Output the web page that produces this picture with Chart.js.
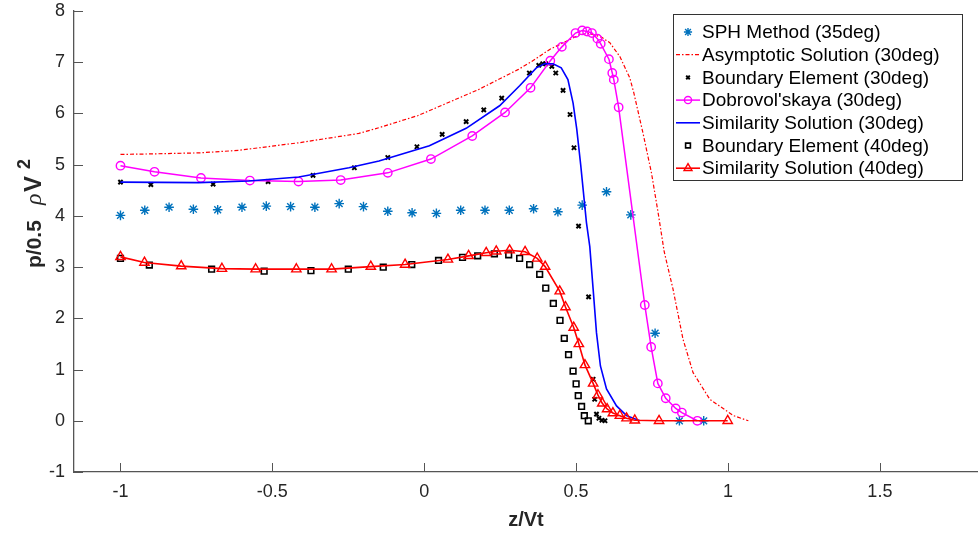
<!DOCTYPE html>
<html>
<head>
<meta charset="UTF-8">
<title>p/0.5 rho V^2 x z/Vt</title>
<script src="https://cdn.jsdelivr.net/npm/chart.js"></script>
<style>
    html, body { margin: 0; padding: 0; background: #fff; }
    #grafico { display: block; }
</style>
</head>
<body>
<canvas id="grafico" width="978" height="538"></canvas>
<script>
// valores
const sphX = [-1, -0.92, -0.84, -0.76, -0.68, -0.6, -0.52, -0.44, -0.36, -0.28, -0.2, -0.12, -0.04, 0.04, 0.12, 0.2, 0.28, 0.36, 0.44, 0.52, 0.6, 0.68, 0.76, 0.84, 0.92];
const sphY = [4.01, 4.11, 4.17, 4.13, 4.12, 4.17, 4.19, 4.18, 4.17, 4.24, 4.18, 4.09, 4.06, 4.05, 4.11, 4.11, 4.11, 4.14, 4.08, 4.21, 4.47, 4.02, 1.71, 0, 0];

const asymX = [-1, -0.9, -0.74, -0.61, -0.41, -0.215, -0.15, -0.02, 0.18, 0.31, 0.35, 0.413, 0.468, 0.512, 0.545, 0.583, 0.611, 0.644, 0.677, 0.69, 0.72, 0.748, 0.77, 0.79, 0.819, 0.852, 0.885, 0.94, 1.018, 1.067];
const asymY = [5.2, 5.21, 5.23, 5.28, 5.43, 5.61, 5.72, 5.96, 6.47, 6.86, 7.0, 7.25, 7.41, 7.54, 7.56, 7.49, 7.38, 7.11, 6.69, 6.4, 5.62, 4.84, 4.06, 3.3, 2.57, 1.59, 0.94, 0.42, 0.1, 0];

const be30X = [-1, -0.9, -0.695, -0.514, -0.366, -0.23, -0.12, -0.024, 0.059, 0.138, 0.196, 0.255, 0.346, 0.377, 0.39, 0.4, 0.42, 0.433, 0.457, 0.48, 0.493, 0.508, 0.541, 0.556, 0.561, 0.567, 0.575, 0.585, 0.595];
const be30Y = [4.66, 4.61, 4.62, 4.67, 4.79, 4.94, 5.14, 5.35, 5.59, 5.84, 6.07, 6.3, 6.79, 6.94, 6.97, 6.97, 6.92, 6.79, 6.45, 5.98, 5.33, 3.8, 2.42, 0.81, 0.42, 0.13, 0.05, 0.01, 0];

const dobX = [-1, -0.888, -0.735, -0.574, -0.414, -0.275, -0.12, 0.022, 0.158, 0.266, 0.35, 0.415, 0.453, 0.498, 0.52, 0.536, 0.552, 0.57, 0.581, 0.608, 0.619, 0.624, 0.64, 0.726, 0.747, 0.769, 0.795, 0.828, 0.848, 0.899];
const dobY = [4.98, 4.86, 4.74, 4.69, 4.67, 4.7, 4.84, 5.11, 5.56, 6.02, 6.5, 7.03, 7.3, 7.57, 7.62, 7.6, 7.57, 7.46, 7.36, 7.06, 6.79, 6.66, 6.12, 2.26, 1.44, 0.73, 0.44, 0.24, 0.16, 0];

const sim30X = [-1, -0.743, -0.578, -0.413, -0.248, -0.149, 0.017, 0.138, 0.248, 0.314, 0.369, 0.396, 0.424, 0.451, 0.473, 0.49, 0.502, 0.515, 0.534, 0.545, 0.556, 0.567, 0.58, 0.6, 0.633, 0.666, 0.71];
const sim30Y = [4.66, 4.65, 4.68, 4.76, 4.94, 5.07, 5.37, 5.71, 6.15, 6.54, 6.89, 6.97, 6.97, 6.89, 6.66, 6.2, 5.7, 5.0, 3.87, 3.4, 2.57, 1.72, 1.07, 0.62, 0.29, 0.1, 0];

const be40X = [-1, -0.905, -0.7, -0.527, -0.373, -0.25, -0.135, -0.041, 0.047, 0.126, 0.176, 0.231, 0.278, 0.314, 0.347, 0.38, 0.4, 0.425, 0.447, 0.461, 0.475, 0.49, 0.5, 0.507, 0.518, 0.527, 0.54];
const be40Y = [3.17, 3.04, 2.96, 2.92, 2.93, 2.96, 3.0, 3.05, 3.13, 3.19, 3.22, 3.26, 3.24, 3.17, 3.05, 2.86, 2.59, 2.29, 1.96, 1.61, 1.29, 0.97, 0.72, 0.49, 0.28, 0.1, 0];

const sim40X = [-1, -0.921, -0.8, -0.666, -0.555, -0.421, -0.305, -0.176, -0.063, 0.078, 0.146, 0.204, 0.237, 0.281, 0.332, 0.372, 0.398, 0.446, 0.465, 0.492, 0.509, 0.529, 0.556, 0.572, 0.586, 0.602, 0.621, 0.644, 0.666, 0.693, 0.773, 0.999];
const sim40Y = [3.2, 3.09, 3.02, 2.97, 2.96, 2.96, 2.96, 3.01, 3.05, 3.15, 3.22, 3.28, 3.31, 3.33, 3.3, 3.17, 3.01, 2.53, 2.22, 1.82, 1.5, 1.09, 0.73, 0.5, 0.34, 0.23, 0.15, 0.1, 0.05, 0.01, 0, 0];

const nomes = ['SPH Method (35deg)', 'Asymptotic Solution (30deg)', 'Boundary Element (30deg)', "Dobrovol'skaya (30deg)", 'Similarity Solution (30deg)', 'Boundary Element (40deg)', 'Similarity Solution (40deg)'];
const xTicks = [-1, -0.5, 0, 0.5, 1, 1.5];
const yTicks = [-1, 0, 1, 2, 3, 4, 5, 6, 7, 8];

function pares(xs, ys) {
    return xs.map((x, i) => ({ x: x, y: ys[i] }));
}

const series = [
    { label: nomes[0], data: pares(sphX, sphY), showLine: false, pointStyle: 'star', pointRadius: 4.8,
      pointBorderColor: '#0072BD', pointBorderWidth: 1.4, borderColor: '#0072BD', order: 6 },
    { label: nomes[1], data: pares(asymX, asymY), showLine: true, pointRadius: 0, borderColor: '#FF0000',
      borderWidth: 1.2, borderDash: [4, 2, 1.5, 2], order: 5 },
    { label: nomes[2], data: pares(be30X, be30Y), showLine: false, pointStyle: 'crossRot', pointRadius: 3,
      pointBorderColor: '#000', pointBorderWidth: 2, borderColor: '#000', order: 4 },
    { label: nomes[3], data: pares(dobX, dobY), showLine: true, pointStyle: 'circle', pointRadius: 4.2,
      pointBorderColor: '#FF00FF', pointBackgroundColor: 'rgba(0,0,0,0)', pointBorderWidth: 1.4,
      borderColor: '#FF00FF', borderWidth: 1.5, order: 3 },
    { label: nomes[4], data: pares(sim30X, sim30Y), showLine: true, pointRadius: 0, borderColor: '#0000FF',
      borderWidth: 1.6, order: 2 },
    { label: nomes[5], data: pares(be40X, be40Y), showLine: false, pointStyle: 'rect', pointRadius: 4,
      pointBorderColor: '#000', pointBackgroundColor: 'rgba(0,0,0,0)', pointBorderWidth: 1.6, borderColor: '#000', order: 1 },
    { label: nomes[6], data: pares(sim40X, sim40Y), showLine: true, pointStyle: 'triangle', pointRadius: 5.4,
      pointBorderColor: '#FF0000', pointBackgroundColor: 'rgba(0,0,0,0)', pointBorderWidth: 1.4,
      borderColor: '#FF0000', borderWidth: 1.6, order: 0 }
];

function desenhaMarcador(ctx, estilo, x, y, r) {
    ctx.beginPath();
    if (estilo === 'circle') {
        ctx.arc(x, y, r, 0, Math.PI * 2);
    } else if (estilo === 'rect') {
        const s = r * Math.SQRT1_2;
        ctx.rect(x - s, y - s, 2 * s, 2 * s);
    } else if (estilo === 'triangle') {
        let a = 0;
        ctx.moveTo(x + Math.sin(a) * r, y - Math.cos(a) * r);
        a += Math.PI * 2 / 3;
        ctx.lineTo(x + Math.sin(a) * r, y - Math.cos(a) * r);
        a += Math.PI * 2 / 3;
        ctx.lineTo(x + Math.sin(a) * r, y - Math.cos(a) * r);
        ctx.closePath();
    } else if (estilo === 'crossRot') {
        const d = r * Math.SQRT1_2;
        ctx.moveTo(x - d, y - d); ctx.lineTo(x + d, y + d);
        ctx.moveTo(x - d, y + d); ctx.lineTo(x + d, y - d);
    } else if (estilo === 'star') {
        const d = r * Math.SQRT1_2;
        ctx.moveTo(x, y - r); ctx.lineTo(x, y + r);
        ctx.moveTo(x - r, y); ctx.lineTo(x + r, y);
        ctx.moveTo(x - d, y - d); ctx.lineTo(x + d, y + d);
        ctx.moveTo(x - d, y + d); ctx.lineTo(x + d, y - d);
    }
    ctx.stroke();
}

// tira o padding extra que o chart.js reserva para os rotulos das pontas
function semPadding(s) {
    s.paddingTop = 0; s.paddingBottom = 0; s.paddingLeft = 0; s.paddingRight = 0;
}

const extras = {
    id: 'extras',
    afterDraw(chart) {
        const ctx = chart.ctx;
        const area = chart.chartArea;
        const sx = chart.scales.x, sy = chart.scales.y;

        // ticks para dentro, estilo matlab
        ctx.save();
        ctx.strokeStyle = '#555';
        ctx.lineWidth = 1;
        xTicks.forEach(v => {
            const px = Math.round(sx.getPixelForValue(v)) + 0.5;
            ctx.beginPath(); ctx.moveTo(px, area.bottom); ctx.lineTo(px, area.bottom - 9); ctx.stroke();
        });
        yTicks.forEach(v => {
            const py = Math.round(sy.getPixelForValue(v)) + 0.5;
            ctx.beginPath(); ctx.moveTo(area.left, py); ctx.lineTo(area.left + 9, py); ctx.stroke();
        });
        ctx.restore();

        // titulo do eixo y: p/0.5  rho V^2 (posicoes em y da tela)
        ctx.save();
        ctx.fillStyle = '#262626';
        ctx.translate(41, 0);
        ctx.rotate(-Math.PI / 2);
        ctx.textBaseline = 'alphabetic';
        const partes = [
            { t: 'p/0.5', f: 'bold 21px "Liberation Sans", Arial', ini: 268, dy: 0 },
            { t: '\u03C1', f: 'italic 24px "Liberation Serif", serif', ini: 205, dy: 0 },
            { t: 'V', f: 'bold 24px "Liberation Sans", Arial', ini: 192, dy: 0 },
            { t: '2', f: 'bold 18px "Liberation Sans", Arial', ini: 169, dy: -11 }
        ];
        partes.forEach(p => {
            ctx.font = p.f;
            ctx.fillText(p.t, -p.ini, p.dy);
        });
        ctx.restore();

        // legenda
        ctx.save();
        const bx = 673, by = 14, bw = 289, bh = 166;
        ctx.fillStyle = '#fff';
        ctx.fillRect(bx, by, bw, bh);
        ctx.strokeStyle = '#333';
        ctx.lineWidth = 1;
        ctx.strokeRect(bx + 0.5, by + 0.5, bw, bh);
        ctx.font = '19px "Liberation Sans", Arial';
        ctx.textBaseline = 'middle';
        series.forEach((ds, i) => {
            const y = 32 + i * 22.7;
            if (ds.showLine) {
                ctx.save();
                ctx.strokeStyle = ds.borderColor;
                ctx.lineWidth = ds.borderWidth;
                ctx.setLineDash(ds.borderDash || []);
                ctx.beginPath(); ctx.moveTo(676, y); ctx.lineTo(700, y); ctx.stroke();
                ctx.restore();
            }
            if (ds.pointRadius > 0) {
                ctx.save();
                ctx.strokeStyle = ds.pointBorderColor;
                ctx.lineWidth = ds.pointBorderWidth;
                desenhaMarcador(ctx, ds.pointStyle, 688, y, ds.pointRadius * 0.85);
                ctx.restore();
            }
            ctx.fillStyle = '#000';
            ctx.fillText(ds.label, 702, y + 1);
        });
        ctx.restore();
    }
};

new Chart(document.getElementById('grafico').getContext('2d'), {
    type: 'scatter',
    data: { datasets: series },
    options: {
        responsive: false,
        animation: false,
        layout: { autoPadding: false, padding: { top: 11, right: 0, bottom: 0, left: 0 } },
        plugins: { legend: { display: false }, tooltip: { enabled: false } },
        scales: {
            x: {
                type: 'linear',
                min: -1.153,
                max: 1.823,
                afterBuildTicks: s => { s.ticks = xTicks.map(v => ({ value: v })); },
                afterFit: s => { s.height = 66; semPadding(s); },
                grid: { display: false, drawTicks: false },
                border: { display: true, color: '#555', width: 1.3 },
                ticks: { padding: 9, color: '#262626', font: { family: '"Liberation Sans", Arial', size: 18 },
                         callback: v => String(v), maxRotation: 0 },
                title: { display: true, text: 'z/Vt', color: '#262626',
                         font: { family: '"Liberation Sans", Arial', size: 20, weight: 'bold' },
                         padding: { top: 0, bottom: 6 } }
            },
            y: {
                type: 'linear',
                min: -1,
                max: 8,
                afterBuildTicks: s => { s.ticks = yTicks.map(v => ({ value: v })); },
                afterFit: s => { s.width = 74; semPadding(s); },
                grid: { display: false, drawTicks: false },
                border: { display: true, color: '#555', width: 1.3 },
                ticks: { padding: 9, color: '#262626', font: { family: '"Liberation Sans", Arial', size: 18 } }
            }
        }
    },
    plugins: [extras]
});
</script>
</body>
</html>
